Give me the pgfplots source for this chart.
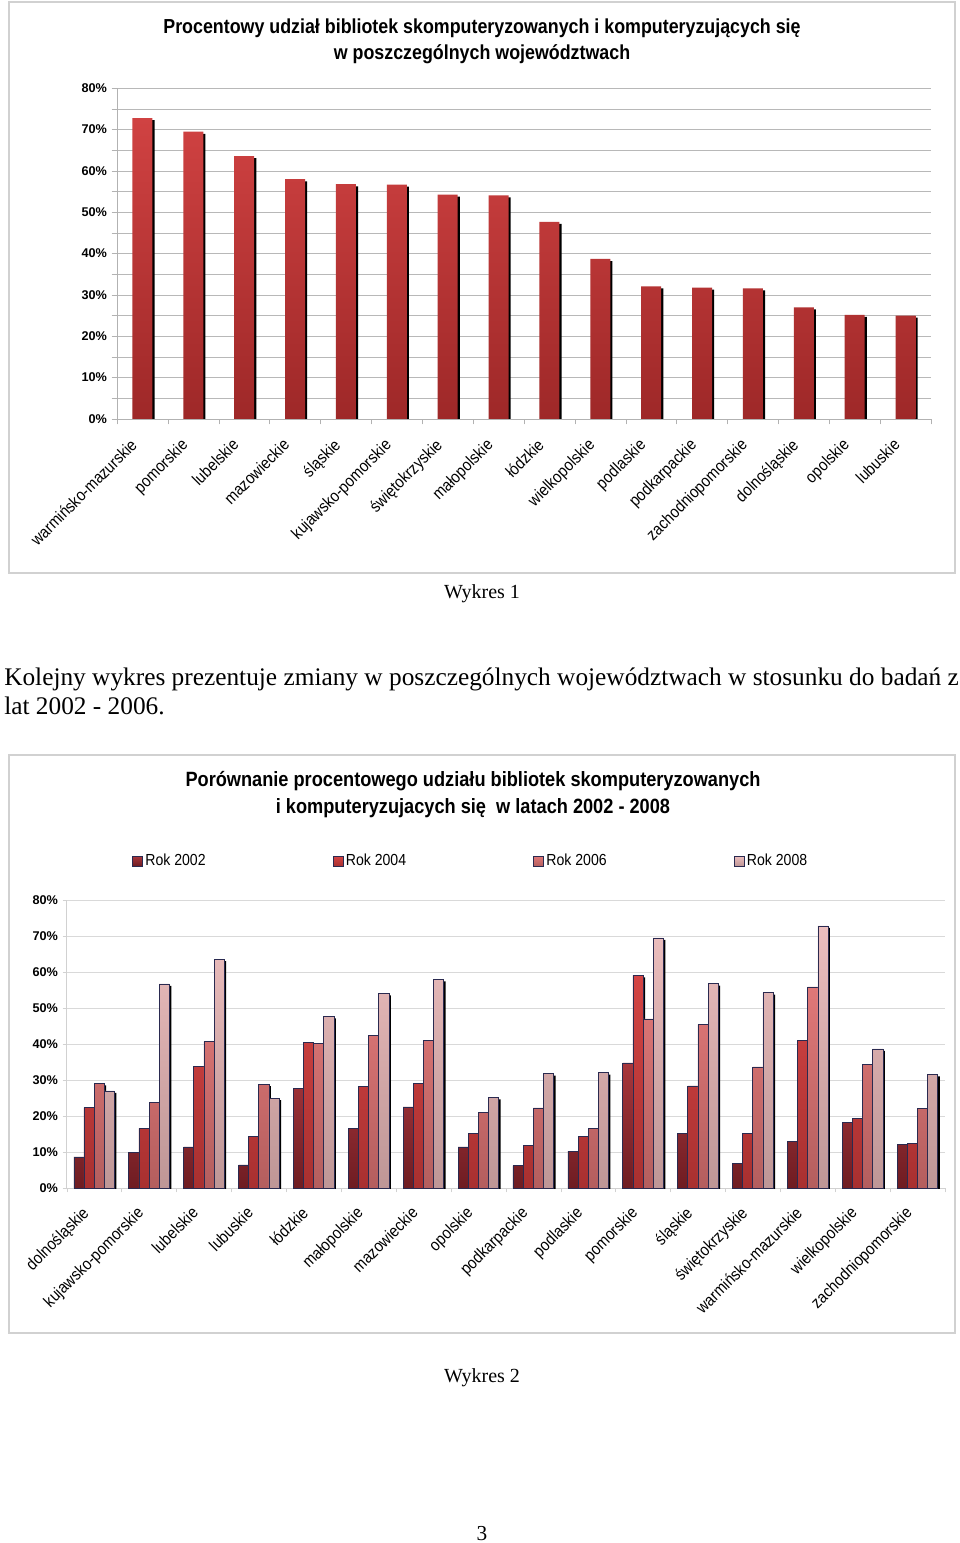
\documentclass[border=0pt]{standalone}
\usepackage{pgfplots}
\pgfplotsset{compat=1.18}
\usepackage{fontspec}
\setmainfont{Liberation Serif}
\newfontfamily\arial{Liberation Sans}
\newfontfamily\arialc[FakeStretch=0.88]{Liberation Sans}
\definecolor{c1top}{HTML}{D04242}
\definecolor{c1bot}{HTML}{9E2828}
\definecolor{a02top}{HTML}{A8363C}
\definecolor{a02bot}{HTML}{6E1C22}
\definecolor{a04top}{HTML}{D44444}
\definecolor{a04bot}{HTML}{A83030}
\definecolor{a06top}{HTML}{E07878}
\definecolor{a06bot}{HTML}{B45E5E}
\definecolor{a08top}{HTML}{ECBEBE}
\definecolor{a08bot}{HTML}{BE9696}
\definecolor{edge}{HTML}{2A2A50}
\begin{document}
\begin{tikzpicture}
\path[use as bounding box, fill=white] (0,0) rectangle (720pt,-1157.25pt);
\draw[black!18, line width=0.8pt] (6.75pt,-1.5pt) rectangle (716.25pt,-429.75pt);
\draw[black!18, line width=0.8pt] (6.75pt,-566.25pt) rectangle (716.25pt,-999.75pt);
\node[font=\arialc\bfseries\fontsize{15.2}{19.5}\selectfont, align=center] at (361.5pt,-30.7pt)
  {Procentowy udział bibliotek skomputeryzowanych i komputeryzujących się\\ w poszczególnych województwach};
\node[font=\arialc\bfseries\fontsize{15.5}{20}\selectfont, align=center] at (354.75pt,-595.8pt)
  {Porównanie procentowego udziału bibliotek skomputeryzowanych\\ i komputeryzujacych się\ \ w latach 2002 - 2008};
\node[font=\fontsize{15}{18}\selectfont] at (361.5pt,-445.5pt) {Wykres 1};
\node[font=\fontsize{15}{18}\selectfont] at (361.5pt,-1033.5pt) {Wykres 2};
\node[font=\fontsize{16}{18}\selectfont] at (361.5pt,-1150.5pt) {3};
\node[anchor=base west, font=\fontsize{19}{21.75}\selectfont, align=left, inner sep=0pt] at (3pt,-535.5pt)
  {Kolejny wykres prezentuje zmiany w poszczególnych województwach w stosunku do badań z\\lat 2002 - 2006.};

\begin{axis}[
  at={(87.75pt,-314.2pt)}, anchor=south west, scale only axis,
  width=610.5pt, height=248pt,
  xmin=-0.5, xmax=15.5, ymin=0, ymax=80,
  axis x line*=bottom, axis y line*=left,
  axis line style={black!30, -},
  ytick={0,10,...,80}, minor ytick={5,15,...,75},
  yticklabels={0\%,10\%,20\%,30\%,40\%,50\%,60\%,70\%,80\%},
  ymajorgrids, yminorgrids,
  major grid style={black!28, line width=0.6pt},
  minor grid style={black!28, line width=0.6pt},
  tick align=outside, major tick length=4pt, minor tick length=4pt,
  tick style={black!30},
  major x tick style={draw=none},
  xtick={0,...,15},
  minor xtick={-0.5,0.5,...,15.5},
  xticklabels={warmińsko-mazurskie,pomorskie,lubelskie,mazowieckie,śląskie,kujawsko-pomorskie,świętokrzyskie,małopolskie,łódzkie,wielkopolskie,podlaskie,podkarpackie,zachodniopomorskie,dolnośląskie,opolskie,lubuskie},
  x tick label style={rotate=45, anchor=north east, font=\arialc\fontsize{12.5}{14}\selectfont, inner sep=1pt, xshift=-12.9pt, yshift=1.1pt},
  y tick label style={font=\arial\bfseries\fontsize{9.5}{11}\selectfont},
]
\addplot[ybar, bar width=15pt, bar shift=0pt, fill=black, draw=none, xshift=1.6pt, yshift=-1.6pt, forget plot]
 coordinates {(0,72.8)(1,69.5)(2,63.6)(3,58.0)(4,56.8)(5,56.7)(6,54.3)(7,54.1)(8,47.7)(9,38.7)(10,32.1)(11,31.8)(12,31.6)(13,27.0)(14,25.2)(15,25.0)};
\addplot[ybar, bar width=15pt, bar shift=0pt, draw=none, top color=c1top, bottom color=c1bot]
 coordinates {(0,72.8)(1,69.5)(2,63.6)(3,58.0)(4,56.8)(5,56.7)(6,54.3)(7,54.1)(8,47.7)(9,38.7)(10,32.1)(11,31.8)(12,31.6)(13,27.0)(14,25.2)(15,25.0)};
\end{axis}

\begin{axis}[
  at={(50pt,-891.2pt)}, anchor=south west, scale only axis,
  width=658.7pt, height=216.2pt,
  xmin=-0.5, xmax=15.5, ymin=0, ymax=80,
  axis x line*=bottom, axis y line*=left,
  axis line style={black!18, -},
  ytick={0,10,...,80},
  yticklabels={0\%,10\%,20\%,30\%,40\%,50\%,60\%,70\%,80\%},
  ymajorgrids,
  major grid style={black!15, line width=0.6pt},
  tick align=outside, major tick length=3pt, minor tick length=3pt,
  tick style={black!18},
  major x tick style={draw=none},
  xtick={0,...,15},
  minor xtick={-0.5,0.5,...,15.5},
  xticklabels={dolnośląskie,kujawsko-pomorskie,lubelskie,lubuskie,łódzkie,małopolskie,mazowieckie,opolskie,podkarpackie,podlaskie,pomorskie,śląskie,świętokrzyskie,warmińsko-mazurskie,wielkopolskie,zachodniopomorskie},
  x tick label style={rotate=45, anchor=north east, font=\arialc\fontsize{12.5}{14}\selectfont, inner sep=1pt, xshift=-12.9pt, yshift=1.1pt},
  y tick label style={font=\arial\bfseries\fontsize{9.5}{11}\selectfont},
  legend columns=4,
  legend style={at={(0.07,1.135)}, anchor=west, draw=none, fill=none,
    font=\arialc\fontsize{12}{13}\selectfont,
    /tikz/every even column/.append style={column sep=93.5pt}},
  legend image code/.code={\draw[#1, draw=edge, line width=0.5pt] (0pt,-3.6pt) rectangle (7.2pt,3.6pt);},
]
% 2002
\addplot[ybar, bar width=7.6pt, bar shift=-11.4pt, fill=black, draw=none, xshift=1.5pt, yshift=-1.5pt, forget plot]
 coordinates {(0,8.7)(1,9.9)(2,11.5)(3,6.5)(4,27.6)(5,16.7)(6,22.6)(7,11.5)(8,6.3)(9,10.3)(10,34.8)(11,15.3)(12,6.8)(13,13.0)(14,18.2)(15,12.1)};
\addplot[ybar, bar width=7.6pt, bar shift=-11.4pt, draw=edge, line width=0.5pt, top color=a02top, bottom color=a02bot]
 coordinates {(0,8.7)(1,9.9)(2,11.5)(3,6.5)(4,27.6)(5,16.7)(6,22.6)(7,11.5)(8,6.3)(9,10.3)(10,34.8)(11,15.3)(12,6.8)(13,13.0)(14,18.2)(15,12.1)};
\addlegendentry{Rok 2002}
% 2004
\addplot[ybar, bar width=7.6pt, bar shift=-3.8pt, fill=black, draw=none, xshift=1.5pt, yshift=-1.5pt, forget plot]
 coordinates {(0,22.4)(1,16.6)(2,33.8)(3,14.5)(4,40.4)(5,28.2)(6,29.2)(7,15.3)(8,12.0)(9,14.3)(10,59.1)(11,28.4)(12,15.3)(13,41.1)(14,19.3)(15,12.4)};
\addplot[ybar, bar width=7.6pt, bar shift=-3.8pt, draw=edge, line width=0.5pt, top color=a04top, bottom color=a04bot]
 coordinates {(0,22.4)(1,16.6)(2,33.8)(3,14.5)(4,40.4)(5,28.2)(6,29.2)(7,15.3)(8,12.0)(9,14.3)(10,59.1)(11,28.4)(12,15.3)(13,41.1)(14,19.3)(15,12.4)};
\addlegendentry{Rok 2004}
% 2006
\addplot[ybar, bar width=7.6pt, bar shift=3.8pt, fill=black, draw=none, xshift=1.5pt, yshift=-1.5pt, forget plot]
 coordinates {(0,29.1)(1,23.9)(2,40.7)(3,28.9)(4,40.2)(5,42.5)(6,41.1)(7,21.1)(8,22.3)(9,16.6)(10,47.0)(11,45.4)(12,33.7)(13,55.9)(14,34.4)(15,22.1)};
\addplot[ybar, bar width=7.6pt, bar shift=3.8pt, draw=edge, line width=0.5pt, top color=a06top, bottom color=a06bot]
 coordinates {(0,29.1)(1,23.9)(2,40.7)(3,28.9)(4,40.2)(5,42.5)(6,41.1)(7,21.1)(8,22.3)(9,16.6)(10,47.0)(11,45.4)(12,33.7)(13,55.9)(14,34.4)(15,22.1)};
\addlegendentry{Rok 2006}
% 2008
\addplot[ybar, bar width=7.6pt, bar shift=11.4pt, fill=black, draw=none, xshift=1.5pt, yshift=-1.5pt, forget plot]
 coordinates {(0,27.0)(1,56.7)(2,63.6)(3,25.0)(4,47.7)(5,54.1)(6,58.0)(7,25.2)(8,31.8)(9,32.1)(10,69.5)(11,56.8)(12,54.3)(13,72.8)(14,38.7)(15,31.6)};
\addplot[ybar, bar width=7.6pt, bar shift=11.4pt, draw=edge, line width=0.5pt, top color=a08top, bottom color=a08bot]
 coordinates {(0,27.0)(1,56.7)(2,63.6)(3,25.0)(4,47.7)(5,54.1)(6,58.0)(7,25.2)(8,31.8)(9,32.1)(10,69.5)(11,56.8)(12,54.3)(13,72.8)(14,38.7)(15,31.6)};
\addlegendentry{Rok 2008}
\end{axis}
\end{tikzpicture}
\end{document}
